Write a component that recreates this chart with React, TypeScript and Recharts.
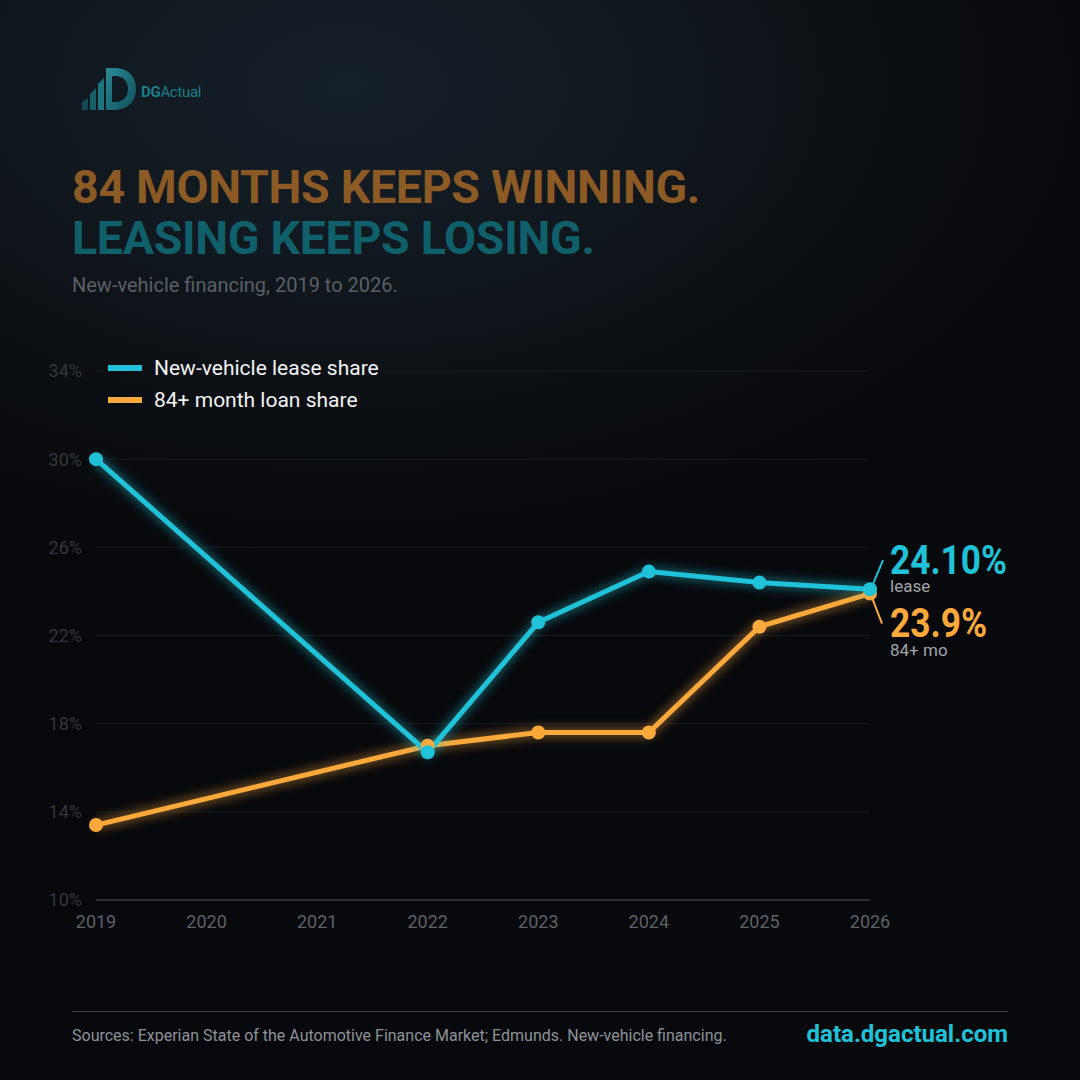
import { LineChart, Line, XAxis, YAxis, CartesianGrid } from 'recharts';

const YEARS = ['2019', '2020', '2021', '2022', '2023', '2024', '2025', '2026'];
const LEASE_SHARE = [30.0, null, null, 16.7, 22.6, 24.9, 24.4, 24.1];
const LOAN_84_SHARE = [13.4, null, null, 17.0, 17.6, 17.6, 22.4, 23.9];
const Y_TICKS = [10, 14, 18, 22, 26, 30, 34];

const LEASE_COLOR = '#1fc2d8';
const LOAN_COLOR = '#fba93b';
const FONT = 'Roboto, "Noto Sans", sans-serif';
const BG =
  'radial-gradient(ellipse 810px 486px at 346px 86px, #16202a 0%, #10171d 40%, #0a0d11 75%, #08090c 100%)';

const data = YEARS.map((year, i) => ({
  year,
  lease: LEASE_SHARE[i],
  loan: LOAN_84_SHARE[i],
}));

const last = YEARS.length - 1;

const EndLabel = (props: any) => {
  const { x, y, index, kind } = props;
  if (index !== last) return null;
  if (kind === 'lease') {
    return (
      <g>
        <line x1={x + 3} y1={y - 5} x2={x + 13} y2={y - 29} stroke={LEASE_COLOR} strokeWidth={2} />
        <text x={x + 20} y={y - 15} fill={LEASE_COLOR} fontSize={40} fontWeight={700} fontFamily={FONT}
          textLength={117} lengthAdjust="spacingAndGlyphs">
          {`${LEASE_SHARE[last]?.toFixed(2)}%`}
        </text>
        <text x={x + 20} y={y + 3} fill="#a0a5ab" fontSize={17} fontFamily={FONT}>lease</text>
      </g>
    );
  }
  return (
    <g>
      <line x1={x + 2} y1={y + 4} x2={x + 12} y2={y + 30} stroke={LOAN_COLOR} strokeWidth={2} />
      <text x={x + 20} y={y + 43} fill={LOAN_COLOR} fontSize={40} fontWeight={700} fontFamily={FONT}
        textLength={97} lengthAdjust="spacingAndGlyphs">
        {`${LOAN_84_SHARE[last]?.toFixed(1)}%`}
      </text>
      <text x={x + 20} y={y + 62} fill="#a0a5ab" fontSize={17} fontFamily={FONT}>84+ mo</text>
    </g>
  );
};

const Logo = () => (
  <svg width={60} height={46} viewBox="0 0 60 46" style={{ position: 'absolute', left: 80, top: 66 }}>
    <defs>
      <linearGradient id="logoGrad" x1="0" y1="0" x2="1" y2="1">
        <stop offset="0%" stopColor="#2a8b97" />
        <stop offset="100%" stopColor="#0f4f5a" />
      </linearGradient>
    </defs>
    <path d="M2 44 L2 36 L8 32 L8 44 Z" fill="#134a54" />
    <path d="M10 44 L10 28 L16 22 L16 44 Z" fill="#17606b" />
    <path d="M18 44 L18 18 L24 12 L24 44 Z" fill="#1d737e" />
    <path d="M26 44 L26 2 L34 2 C50 2 56 12 56 23 C56 35 48 44 34 44 Z M32 10 L32 36 L35 36 C44 36 48 30 48 23 C48 15 43 10 35 10 Z" fill="url(#logoGrad)" fillRule="evenodd" />
  </svg>
);

const App = () => {
  return (
    <div
      style={{
        position: 'absolute',
        left: 0,
        top: 0,
        width: 1080,
        height: 1080,
        overflow: 'hidden',
        fontFamily: FONT,
        background: BG,
      }}
    >
      <svg width={0} height={0} style={{ position: 'absolute' }}>
        <defs>
          <filter id="glow" x="-20%" y="-20%" width="140%" height="140%">
            <feGaussianBlur stdDeviation="4" />
          </filter>
        </defs>
      </svg>

      <Logo />
      <div style={{ position: 'absolute', left: 141, top: 83, fontSize: 15, color: '#1a7f8c', letterSpacing: -0.3 }}>
        <span style={{ fontWeight: 700 }}>DG</span>
        <span>Actual</span>
      </div>

      <div style={{ position: 'absolute', left: 72, top: 162, fontSize: 46.5, fontWeight: 700, lineHeight: '51px', letterSpacing: -0.3 }}>
        <div style={{ color: '#8c5a25' }}>84 MONTHS KEEPS WINNING.</div>
        <div style={{ color: '#10606c' }}>LEASING KEEPS LOSING.</div>
      </div>
      <div style={{ position: 'absolute', left: 72, top: 273, fontSize: 20, color: '#5a5f66' }}>
        New-vehicle financing, 2019 to 2026.
      </div>

      <div style={{ position: 'absolute', left: 0, top: 0 }}>
        <LineChart width={1080} height={1080} data={data} margin={{ top: 371, right: 210, bottom: 150, left: 36 }}>
          <CartesianGrid horizontal vertical={false} stroke="#181c21" strokeWidth={1} />
          <XAxis
            dataKey="year"
            interval={0}
            axisLine={{ stroke: '#2a2e33', strokeWidth: 2 }}
            tickLine={false}
            tickMargin={9}
            height={30}
            tick={{ fill: '#5d6168', fontSize: 18, fontFamily: FONT }}
          />
          <YAxis
            domain={[10, 34]}
            ticks={Y_TICKS}
            width={60}
            axisLine={false}
            tickLine={false}
            tickMargin={8}
            tickFormatter={(v) => `${v}%`}
            tick={{ fill: '#33373d', fontSize: 18, fontFamily: FONT }}
          />
          <Line
            dataKey="loan"
            connectNulls
            stroke={LOAN_COLOR}
            strokeWidth={12}
            strokeOpacity={0.35}
            filter="url(#glow)"
            dot={false}
            activeDot={false}
            legendType="none"
            isAnimationActive={false}
          />
          <Line
            dataKey="loan"
            name="84+ month loan share"
            connectNulls
            stroke={LOAN_COLOR}
            strokeWidth={5}
            dot={{ r: 7, fill: LOAN_COLOR, stroke: 'none' }}
            activeDot={false}
            label={<EndLabel kind="loan" />}
            isAnimationActive={false}
          />
          <Line
            dataKey="lease"
            connectNulls
            stroke={LEASE_COLOR}
            strokeWidth={12}
            strokeOpacity={0.35}
            filter="url(#glow)"
            dot={false}
            activeDot={false}
            legendType="none"
            isAnimationActive={false}
          />
          <Line
            dataKey="lease"
            name="New-vehicle lease share"
            connectNulls
            stroke={LEASE_COLOR}
            strokeWidth={5}
            dot={{ r: 7, fill: LEASE_COLOR, stroke: 'none' }}
            activeDot={false}
            label={<EndLabel kind="lease" />}
            isAnimationActive={false}
          />
        </LineChart>
      </div>

      <div
        style={{
          position: 'absolute',
          left: 104,
          top: 350,
          fontSize: 21,
          color: '#f2f2f2',
          lineHeight: '32px',
          padding: '2px 6px 2px 4px',
          background: BG,
          backgroundSize: '1080px 1080px',
          backgroundPosition: '-104px -350px',
        }}
      >
        <div style={{ display: 'flex', alignItems: 'center' }}>
          <span style={{ width: 34, height: 6, background: LEASE_COLOR, marginRight: 12, display: 'inline-block' }} />
          New-vehicle lease share
        </div>
        <div style={{ display: 'flex', alignItems: 'center' }}>
          <span style={{ width: 34, height: 6, background: LOAN_COLOR, marginRight: 12, display: 'inline-block' }} />
          84+ month loan share
        </div>
      </div>

      <div style={{ position: 'absolute', left: 72, top: 1011, width: 936, height: 1, background: '#3a3e44' }} />
      <div style={{ position: 'absolute', left: 72, top: 1026, fontSize: 16, color: '#8d9298' }}>
        Sources: Experian State of the Automotive Finance Market; Edmunds. New-vehicle financing.
      </div>
      <div style={{ position: 'absolute', right: 72, top: 1020, fontSize: 24, fontWeight: 700, color: LEASE_COLOR }}>
        data.dgactual.com
      </div>
    </div>
  );
};

export default App;
